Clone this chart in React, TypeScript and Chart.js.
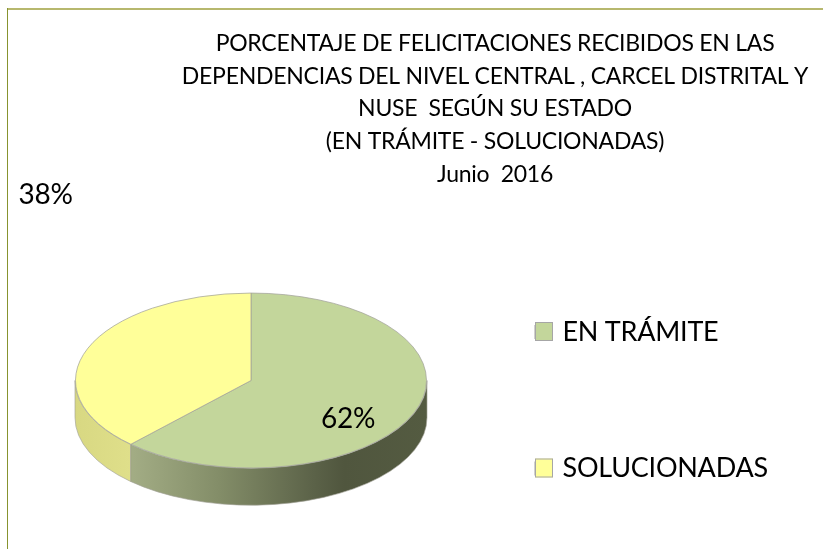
import React, { useEffect, useRef } from "react";
import { Chart, registerables } from "chart.js";

Chart.register(...registerables);

const categories = ["EN TRÁMITE", "SOLUCIONADAS"];
const values = [62, 38];
const sliceColors = ["#C3D69B", "#FFFF99"];
const titleLines = [
  "PORCENTAJE DE FELICITACIONES RECIBIDOS EN LAS",
  "DEPENDENCIAS DEL NIVEL CENTRAL , CARCEL DISTRITAL Y",
  "NUSE  SEGÚN SU ESTADO",
  "(EN TRÁMITE - SOLUCIONADAS)",
  "Junio  2016",
];

const FONT = "Lato, Carlito, sans-serif";
const CX = 251;
const CY = 380.5;
const RX = 176;
const RY = 87.7;
const DEPTH = 37;
const LEGEND_FONT = 27;
const LEGEND_ITEM_H = 27;
const LEGEND_PAD = 109.5;
const LABEL_POS = [
  { x: 348, y: 419 },
  { x: 45.5, y: 195 },
];
const sideStops = [
  [[0, "#A3AD85"], [0.3, "#838D68"], [0.62, "#5B6248"], [0.72, "#50563E"], [1, "#545B41"]],
  [[0, "#D8D882"], [1, "#DFDF8A"]],
];

const pie3d = {
  id: "pie3d",
  beforeDraw(chart: any) {
    const { ctx } = chart;
    ctx.save();
    ctx.fillStyle = "#FFFFFF";
    ctx.fillRect(0, 0, chart.width, chart.height);
    ctx.fillStyle = "#B7B86E";
    ctx.fillRect(7, 8, chart.width - 7, 2);
    ctx.fillStyle = "#87932F";
    ctx.fillRect(7, 8, 1, chart.height - 8);
    ctx.restore();
    ctx.letterSpacing = "-0.25px";
  },
  afterLayout(chart: any) {
    const side = 352;
    const a = chart.chartArea;
    a.left = CX - side / 2;
    a.right = CX + side / 2;
    a.top = 100;
    a.bottom = 100 + side;
    a.width = side;
    a.height = side;
    const t = chart.titleBlock;
    t.left = 167;
    t.right = 823;
    t.top = 27;
    const l = chart.legend;
    l.left = 535 - LEGEND_PAD;
    l.right = 823;
    l.top = 318.5 - LEGEND_PAD;
    l.bottom = 2000;
  },
  beforeDatasetsDraw(chart: any) {
    const { ctx } = chart;
    const arcs = chart.getDatasetMeta(0).data;
    ctx.save();
    arcs.forEach((arc: any, i: number) => {
      const s = arc.startAngle;
      const e = arc.endAngle;
      const ranges: [number, number][] = [];
      for (const k of [-2, 0, 2]) {
        const lo = Math.max(s, k * Math.PI);
        const hi = Math.min(e, (k + 1) * Math.PI);
        if (hi > lo) ranges.push([lo, hi]);
      }
      for (const [lo, hi] of ranges) {
        const x0 = CX + RX * Math.cos(hi);
        const x1 = CX + RX * Math.cos(lo);
        const g = ctx.createLinearGradient(x0, 0, x1, 0);
        sideStops[i].forEach(([p, c]: any) => g.addColorStop(p, c));
        ctx.beginPath();
        ctx.ellipse(CX, CY, RX, RY, 0, lo, hi);
        ctx.ellipse(CX, CY + DEPTH, RX, RY, 0, hi, lo, true);
        ctx.closePath();
        ctx.fillStyle = g;
        ctx.fill();
        ctx.strokeStyle = "rgba(160,160,150,0.8)";
        ctx.lineWidth = 0.8;
        ctx.stroke();
      }
    });
    ctx.restore();
    ctx.save();
    const cy = (chart.chartArea.top + chart.chartArea.bottom) / 2;
    ctx.translate(0, CY);
    ctx.scale(1, RY / RX);
    ctx.translate(0, -cy);
  },
  afterDatasetsDraw(chart: any) {
    const { ctx } = chart;
    ctx.restore();
    ctx.save();
    ctx.fillStyle = "#000000";
    ctx.font = `28px ${FONT}`;
    ctx.textAlign = "center";
    ctx.textBaseline = "middle";
    const total = values.reduce((a, b) => a + b, 0);
    values.forEach((v, i) => {
      ctx.fillText(`${Math.round((v / total) * 100)}%`, LABEL_POS[i].x, LABEL_POS[i].y);
    });
    ctx.restore();
  },
  afterDraw(chart: any) {
    const { ctx, legend } = chart;
    ctx.save();
    categories.forEach((_, i) => {
      const x = legend.left + LEGEND_PAD;
      const y =
        legend.top + LEGEND_PAD + LEGEND_ITEM_H / 2 + i * (LEGEND_ITEM_H + LEGEND_PAD) - 10;
      ctx.fillStyle = sliceColors[i];
      ctx.strokeStyle = "#A6A6A6";
      ctx.lineWidth = 1;
      ctx.fillRect(x, y, 18, 19);
      ctx.strokeRect(x + 0.5, y + 0.5, 17, 18);
    });
    ctx.restore();
    ctx.letterSpacing = "0px";
  },
};

export default function App() {
  const ref = useRef<HTMLCanvasElement>(null);
  useEffect(() => {
    document.body.style.margin = "0";
    const chart = new Chart(ref.current as HTMLCanvasElement, {
      type: "pie",
      data: {
        labels: categories,
        datasets: [
          {
            data: values,
            backgroundColor: sliceColors,
            borderColor: "#A3A39A",
            borderWidth: 1,
          },
        ],
      },
      options: {
        responsive: false,
        animation: false,
        layout: { padding: 0 },
        plugins: {
          tooltip: { enabled: false },
          title: {
            display: true,
            text: titleLines,
            color: "#000000",
            padding: 0,
            font: { family: FONT, size: 23, weight: "normal", lineHeight: 32.75 / 23 },
          },
          legend: {
            display: true,
            position: "right",
            align: "start",
            labels: {
              color: "#000000",
              boxWidth: 14,
              boxHeight: 14,
              padding: LEGEND_PAD,
              font: { family: FONT, size: LEGEND_FONT },
            },
          },
        },
      },
      plugins: [pie3d],
    } as any);
    return () => chart.destroy();
  }, []);
  return <canvas ref={ref} width={823} height={549} style={{ display: "block" }} />;
}
